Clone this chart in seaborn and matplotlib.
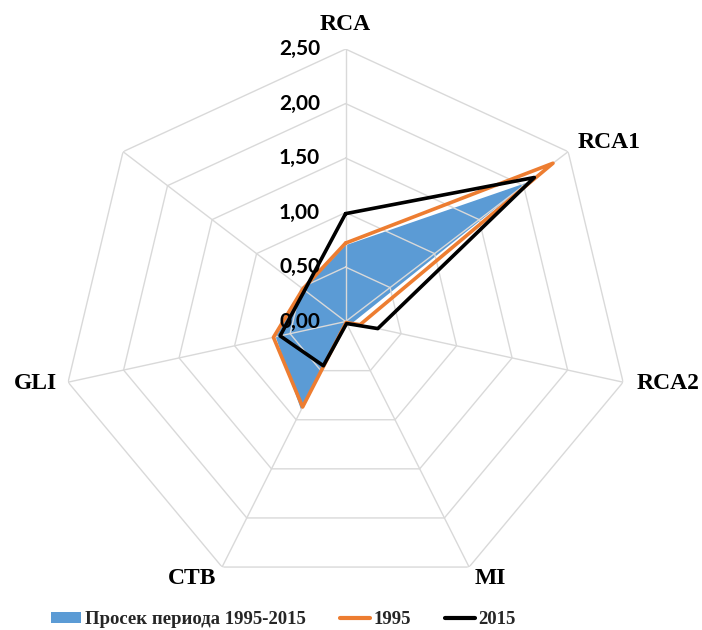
import numpy as np
import pandas as pd
import matplotlib
matplotlib.use("Agg")
import matplotlib.pyplot as plt
import seaborn as sns
from matplotlib.patches import Patch
from matplotlib.lines import Line2D

# ---- data ----
categories = ["RCA", "RCA1", "RCA2", "MI", "CTB", "GLI", ""]
avg_values = [0.70, 2.05, 0.06, 0.01, 0.90, 0.63, 0.47]
y1995 = [0.72, 2.33, 0.13, 0.01, 0.87, 0.65, 0.48]
y2015 = [0.99, 2.12, 0.29, 0.02, 0.45, 0.59, 0.46]
tick_values = [0.0, 0.5, 1.0, 1.5, 2.0, 2.5]
tick_labels = ["0,00", "0,50", "1,00", "1,50", "2,00", "2,50"]
legend_labels = ["Просек периода 1995-2015", "1995", "2015"]

sns.set_theme(style="white")
plt.rcParams["font.family"] = ["Liberation Serif", "DejaVu Serif"]

BLUE = "#5B9BD5"
ORANGE = "#ED7D31"
BLACK = "#000000"
GRID = "#D9D9D9"

n = len(categories)
theta = np.linspace(0, 2 * np.pi, n, endpoint=False)

def closed(vals):
    return np.append(vals, vals[0])

th_c = closed(theta)

df = pd.DataFrame({
    "theta": np.concatenate([th_c, th_c]),
    "value": np.concatenate([closed(y1995), closed(y2015)]),
    "series": ["1995"] * (n + 1) + ["2015"] * (n + 1),
})

fig = plt.figure(figsize=(7.02, 6.30), dpi=100)
ax = fig.add_axes([0.0868, 0.0571, 0.811, 0.865], projection="polar")
ax.set_theta_offset(np.pi / 2)
ax.set_theta_direction(-1)
ax.set_ylim(0, 2.5)
ax.grid(False)
ax.spines["polar"].set_visible(False)
ax.set_xticks([])
ax.set_yticks([])
ax.set_aspect("auto")

# average fill
ax.fill(th_c, closed(avg_values), color=BLUE, zorder=1, linewidth=0)

# grid (heptagons and spokes) on top of fill
for lvl in tick_values[1:]:
    ax.plot(th_c, [lvl] * (n + 1), color=GRID, lw=1.0, zorder=2)
for t in theta:
    ax.plot([t, t], [0, tick_values[-1]], color=GRID, lw=1.0, zorder=2)

# series lines
sns.lineplot(data=df, x="theta", y="value", hue="series", sort=False,
             estimator=None, units="series",
             palette={"1995": ORANGE, "2015": BLACK}, linewidth=2.6,
             ax=ax, legend=False, zorder=3)
ax.set_xlabel("")
ax.set_ylabel("")

# radial tick labels
for v, lab in zip(tick_values, tick_labels):
    ax.annotate(lab, xy=(0, v), xytext=(-18.4, 0), textcoords="offset points",
                ha="right", va="center", fontsize=15, fontweight="bold",
                family=["Lato", "DejaVu Sans"], color="black", zorder=5)

# category labels
offsets = {
    "RCA": ((0, 17.6), "center"),
    "RCA1": ((6.5, 6.5), "left"),
    "RCA2": ((10, -0.7), "left"),
    "MI": ((4.3, -8), "left"),
    "CTB": ((-4.3, -8), "right"),
    "GLI": ((-8, -0.7), "right"),
}
for t, cat in zip(theta, categories):
    if not cat:
        continue
    off, ha = offsets[cat]
    ax.annotate(cat, xy=(t, tick_values[-1]), xytext=off,
                textcoords="offset points", ha=ha, va="center",
                fontsize=17, fontweight="bold", color="black",
                annotation_clip=False)

handles = [
    Patch(facecolor=BLUE, edgecolor="none"),
    Line2D([0], [0], color=ORANGE, lw=3),
    Line2D([0], [0], color=BLACK, lw=3),
]
fig.legend(handles, legend_labels, loc="center", bbox_to_anchor=(0.404, 0.0165),
           ncol=3, frameon=False, prop={"size": 13.5, "weight": "bold"},
           handlelength=1.6, handleheight=0.6, handletextpad=0.2,
           columnspacing=1.8, borderaxespad=0)

fig.savefig("out.png", dpi=100)
